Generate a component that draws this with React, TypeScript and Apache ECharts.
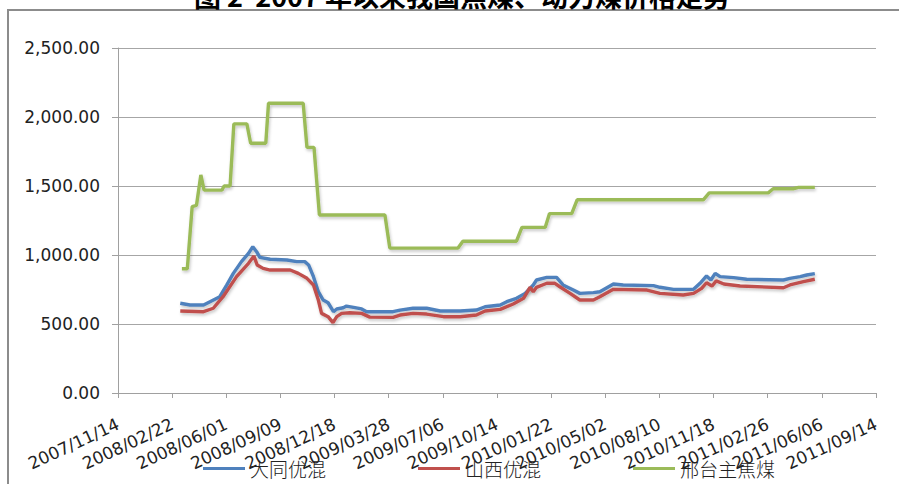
import React, { useEffect, useRef } from "react";
import * as echarts from "echarts";

// Axis origin of the date axis (ticks every 100 days from here)
const axisStartDate = "2007-11-14";
const axisDays = 1400;
const tickDays = 100;
const yTicks = [0, 500, 1000, 1500, 2000, 2500];

const titleText = "图 2  2007 年以来我国焦煤、动力煤价格走势";
const seriesNames = ["大同优混", "山西优混", "邢台主焦煤"];

const datongDates = [
  "2008-03-08", "2008-03-26", "2008-04-20", "2008-05-02", "2008-05-20", "2008-06-02", "2008-06-14",
  "2008-06-29", "2008-07-12", "2008-07-20", "2008-07-27", "2008-08-02", "2008-08-21", "2008-09-21",
  "2008-10-09", "2008-10-24", "2008-10-31", "2008-11-09", "2008-11-18", "2008-11-27", "2008-12-06",
  "2008-12-16", "2008-12-22", "2009-01-03", "2009-01-09", "2009-01-22", "2009-02-06", "2009-02-15",
  "2009-04-05", "2009-04-18", "2009-05-12", "2009-06-06", "2009-07-01", "2009-08-07", "2009-09-06",
  "2009-09-22", "2009-10-20", "2009-11-01", "2009-11-19", "2009-12-05", "2009-12-20", "2009-12-26",
  "2010-01-14", "2010-02-01", "2010-02-13", "2010-03-04", "2010-03-16", "2010-04-10", "2010-04-22",
  "2010-05-17", "2010-06-04", "2010-07-30", "2010-08-11", "2010-09-05", "2010-10-12", "2010-10-24",
  "2010-11-05", "2010-11-13", "2010-11-21", "2010-11-30", "2010-12-25", "2011-01-18", "2011-03-27",
  "2011-04-08", "2011-04-27", "2011-05-09", "2011-05-24",
];
const datongValues = [
  650, 638, 638, 662, 698, 783, 867,
  952, 1012, 1060, 1024, 983, 969, 964,
  952, 952, 928, 843, 734, 674, 654,
  589, 609, 618, 630, 621, 609, 589,
  589, 601, 614, 614, 594, 594, 601,
  625, 638, 662, 686, 722, 783, 819,
  838, 838, 783, 746, 722, 727, 734,
  790, 783, 778, 766, 751, 751, 795,
  848, 819, 867, 843, 836, 824, 819,
  831, 843, 855, 865,
];

const shanxiDates = [
  "2008-03-08", "2008-04-20", "2008-05-08", "2008-05-26", "2008-06-20", "2008-07-12", "2008-07-22",
  "2008-07-28", "2008-08-08", "2008-08-21", "2008-09-27", "2008-10-12", "2008-10-28", "2008-11-09",
  "2008-11-18", "2008-11-24", "2008-12-06", "2008-12-15", "2008-12-22", "2008-12-31", "2009-01-15",
  "2009-02-06", "2009-02-21", "2009-04-05", "2009-04-18", "2009-05-12", "2009-06-06", "2009-07-07",
  "2009-08-07", "2009-09-06", "2009-09-22", "2009-10-20", "2009-11-13", "2009-12-02", "2009-12-14",
  "2009-12-20", "2009-12-26", "2010-01-14", "2010-01-29", "2010-02-07", "2010-02-26", "2010-03-16",
  "2010-04-10", "2010-04-22", "2010-05-17", "2010-07-18", "2010-08-11", "2010-09-23", "2010-10-12",
  "2010-10-27", "2010-11-05", "2010-11-15", "2010-11-23", "2010-12-07", "2011-01-06", "2011-03-27",
  "2011-04-08", "2011-05-03", "2011-05-24",
];
const shanxiValues = [
  594, 589, 614, 698, 843, 940, 993,
  928, 903, 891, 891, 867, 831, 783,
  674, 577, 553, 510, 553, 577, 582,
  577, 550, 548, 565, 577, 572, 553,
  553, 565, 594, 606, 645, 686, 766,
  734, 766, 795, 795, 770, 722, 674,
  674, 698, 751, 746, 722, 710, 722,
  758, 799, 775, 812, 790, 775, 763,
  783, 807, 824,
];

const xingtaiDates = [
  "2008-03-11", "2008-03-21", "2008-03-30", "2008-04-07", "2008-04-15", "2008-04-21", "2008-05-24",
  "2008-05-28", "2008-06-08", "2008-06-15", "2008-07-09", "2008-07-16", "2008-08-13", "2008-08-18",
  "2008-10-21", "2008-10-28", "2008-11-10", "2008-11-20", "2009-03-21", "2009-03-30", "2009-08-03",
  "2009-08-12", "2009-11-19", "2009-11-29", "2010-01-11", "2010-01-19", "2010-03-01", "2010-03-11",
  "2010-10-30", "2010-11-10", "2011-02-27", "2011-03-08", "2011-04-14", "2011-04-24", "2011-05-24",
];
const xingtaiValues = [
  900, 900, 1350, 1360, 1580, 1470, 1470,
  1500, 1500, 1950, 1950, 1810, 1810, 2100,
  2100, 1780, 1780, 1290, 1290, 1050, 1050,
  1100, 1100, 1200, 1200, 1300, 1300, 1400,
  1400, 1450, 1450, 1480, 1480, 1490, 1490,
];

const colors = ["#4F81BD", "#C0504D", "#9BBB59"];

const DAY = 86400000;
const baseMs = Date.parse(axisStartDate);
const toDay = (d: string) => Math.round((Date.parse(d) - baseMs) / DAY);
const pad = (n: number) => (n < 10 ? "0" + n : "" + n);
const fmtDay = (v: number) => {
  const dt = new Date(baseMs + v * DAY);
  return dt.getUTCFullYear() + "/" + pad(dt.getUTCMonth() + 1) + "/" + pad(dt.getUTCDate());
};
const fmtNum = (v: number) =>
  v.toLocaleString("en-US", { minimumFractionDigits: 2, maximumFractionDigits: 2 });

const pairs = (dates: string[], vals: number[]) => dates.map((d, i) => [toDay(d), vals[i]]);

const App: React.FC = () => {
  const ref = useRef<HTMLDivElement>(null);
  useEffect(() => {
    if (!ref.current) return;
    const chart = echarts.init(ref.current, undefined, { renderer: "svg" });
    const axisFont = "DejaVu Sans";
    const lineSeries = (name: string, data: number[][], color: string) => ({
      name,
      type: "line",
      data,
      showSymbol: false,
      symbol: "none",
      color,
      lineStyle: {
        width: 3.4,
        color,
        shadowColor: "rgba(0,0,0,0.22)",
        shadowBlur: 3,
        shadowOffsetX: 1,
        shadowOffsetY: 2,
      },
    });
    chart.setOption({
      animation: false,
      backgroundColor: "#ffffff",
      graphic: [
        {
          type: "rect",
          shape: { x: 8, y: 10, width: 1000, height: 1000 },
          style: { fill: "none", stroke: "#8c8c8c", lineWidth: 2 },
          z: 0,
        },
        {
          type: "text",
          x: 462,
          y: 9,
          style: {
            text: titleText,
            fill: "#000",
            font: "bold 27px 'Noto Sans CJK SC'",
            textAlign: "center",
            textVerticalAlign: "bottom",
          },
        },
      ],
      legend: {
        left: 198,
        top: 454,
        itemGap: 92,
        itemWidth: 42,
        itemHeight: 3,
        icon: "rect",
        data: seriesNames,
        textStyle: { fontFamily: "Noto Sans CJK SC", fontSize: 19, fontWeight: 300, color: "#222" },
      },
      grid: { left: 118, right: 23, top: 48, bottom: 91, containLabel: false },
      xAxis: {
        type: "value",
        min: 0,
        max: axisDays,
        interval: tickDays,
        splitLine: { show: false },
        axisLine: { show: true, lineStyle: { color: "#a0a0a0", width: 1 } },
        axisTick: { show: true, length: 5, lineStyle: { color: "#a0a0a0" } },
        axisLabel: {
          rotate: 25,
          margin: 30,
          fontFamily: axisFont,
          fontSize: 17,
          color: "#222",
          formatter: (v: number) => fmtDay(v),
          showMinLabel: true,
          showMaxLabel: true,
        },
      },
      yAxis: {
        type: "value",
        min: yTicks[0],
        max: yTicks[yTicks.length - 1],
        interval: 500,
        splitLine: { show: true, lineStyle: { color: "#a6a6a6", width: 1 } },
        axisLine: { show: true, lineStyle: { color: "#a0a0a0", width: 1 } },
        axisTick: { show: true, length: 6, lineStyle: { color: "#a0a0a0" } },
        axisLabel: {
          margin: 18,
          fontFamily: axisFont,
          fontSize: 17,
          color: "#222",
          formatter: (v: number) => fmtNum(v),
        },
      },
      series: [
        lineSeries(seriesNames[0], pairs(datongDates, datongValues), colors[0]),
        lineSeries(seriesNames[1], pairs(shanxiDates, shanxiValues), colors[1]),
        lineSeries(seriesNames[2], pairs(xingtaiDates, xingtaiValues), colors[2]),
      ],
    });
    return () => chart.dispose();
  }, []);
  return (
    <div
      ref={ref}
      style={{ position: "absolute", left: 0, top: 0, width: 899, height: 484, overflow: "hidden" }}
    />
  );
};

export default App;
